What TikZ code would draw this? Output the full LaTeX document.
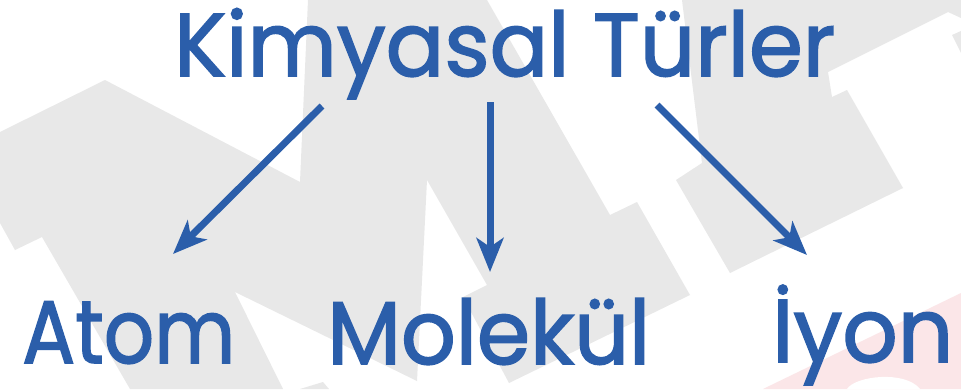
\documentclass[tikz,border=0pt]{standalone}
\usepackage{fontspec}
\setmainfont{Poppins}[FakeBold=1.8]
\usetikzlibrary{arrows.meta}
\definecolor{txtblue}{HTML}{2B5EAA}
\definecolor{wmgrey}{HTML}{E8E8E8}
\definecolor{wmpink}{HTML}{FBE6E8}
\tikzset{
  label/.style={text=txtblue, inner sep=0pt, anchor=base west, font=\fontsize{89}{89}\selectfont},
  conn/.style={draw=txtblue, line width=7pt, -{Stealth[length=34pt, width=27pt, inset=9pt]}},
  wm/.style={fill=wmgrey, draw=none}
}
\begin{document}
\begin{tikzpicture}[x=1pt,y=-1pt]
\useasboundingbox (0,0) rectangle (961,389);
\fill[white] (0,0) rectangle (961,389);
% watermark
\fill[wm] (0,132) -- (105,80) -- (300,182) -- (308,0) -- (487,0) -- (610,215) -- (637,202)
  -- (690,295) -- (509,383) -- (463,297) -- (487,285) -- (427,180) -- (417,381)
  -- (235,292) -- (283,389) -- (130,389) -- (42,237) -- (15,250) -- (0,223) -- cycle;
\fill[wm] (300,389) -- (323,382) -- (329,389) -- cycle;
\fill[wm] (682,0) -- (961,0) -- (961,18) -- (948,12) -- (828,72) -- (832,97) -- (847,90)
  -- (903,188) -- (730,273) -- (676,180) -- (702,163) -- cycle;
\fill[wm] (952,35) -- (961,31) -- (961,53) -- cycle;
\fill[wmpink] (763,389) -- (961,293) -- (961,389) -- cycle;
\fill[white] (847,389) .. controls (855,376) and (905,370) .. (920,389) -- cycle;
% texts
\node[label] (title) at (174,76) {\resizebox{661pt}{\height}{Kimyasal Türler}};
\node[label] (atom) at (22,363) {\resizebox{213pt}{\height}{Atom}};
\node[label] (molekul) at (327,364) {\resizebox{323pt}{\height}{Molekül}};
\node[label] (iyon) at (772,362) {\resizebox{181pt}{\height}{İyon}};
% connector ends
\coordinate (s1) at (322,106);
\coordinate (e1) at (173,254);
\coordinate (s2) at (490,102);
\coordinate (e2) at (490,272);
\coordinate (s3) at (657,105);
\coordinate (e3) at (807,255);
\draw[conn] (s1) -- (e1);
\draw[conn] (s2) -- (e2);
\draw[conn] (s3) -- (e3);
\end{tikzpicture}
\end{document}
